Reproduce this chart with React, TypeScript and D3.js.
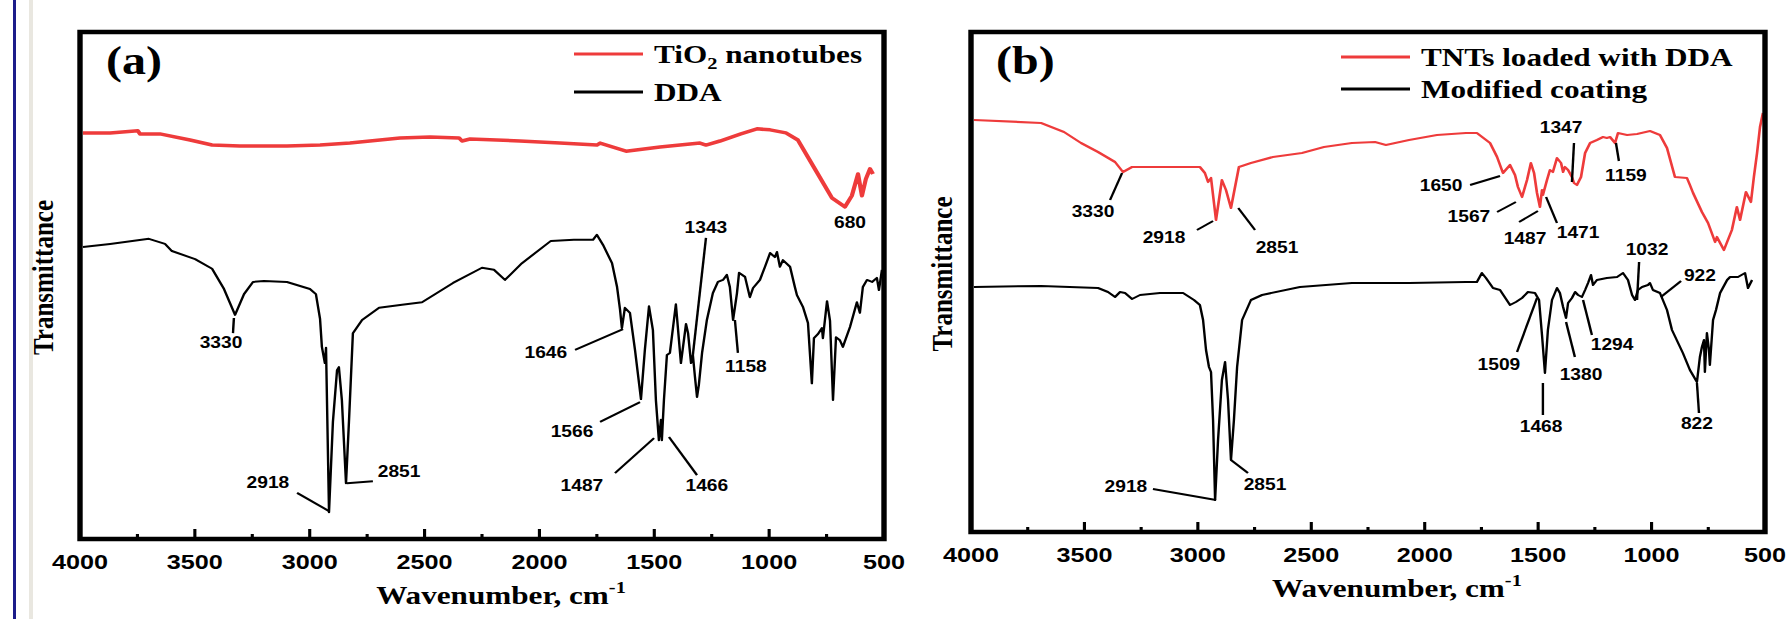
import React from 'react'
import * as d3 from 'd3'

const W = 1787
const H = 619
// the original figure is stretched sideways, so draw in a narrower box and stretch it
const SX = 1.2
const VW = W / SX
const px = (x: number) => x / SX

const RED = '#ee3b3b'
const SERIF = '"Liberation Serif", "Times New Roman", serif'
const SANS = '"Liberation Sans", Arial, sans-serif'

// [wavenumber cm-1, transmittance (arb.)]
const tio2: [number, number][] = [
  [3987, 80.1], [3869, 80.1], [3748, 80.5], [3739, 79.9], [3652, 79.9], [3521, 78.7],
  [3425, 77.7], [3304, 77.5], [3099, 77.5], [2955, 77.7], [2825, 78.1], [2607, 79.1],
  [2476, 79.3], [2350, 79.1], [2337, 78.5], [2302, 78.9], [2085, 78.5], [1911, 78.1],
  [1750, 77.7], [1736, 78.1], [1623, 76.5], [1475, 77.3], [1301, 78.1], [1275, 77.7],
  [1214, 78.5], [1123, 79.9], [1053, 80.9], [996, 80.7], [927, 80.1], [875, 78.7],
  [801, 73.0], [727, 67.3], [670, 65.5], [640, 67.7], [613, 72.0], [596, 67.7],
  [579, 71.0], [561, 73.0], [548, 72.0],
]

const dda: [number, number][] = [
  [3987, 57.6], [3869, 58.2], [3700, 59.2], [3630, 58.2], [3600, 56.8], [3499, 55.2],
  [3425, 53.3], [3373, 49.3], [3325, 44.2], [3286, 48.3], [3247, 50.7], [3199, 50.9],
  [3099, 50.7], [2999, 49.3], [2973, 48.3], [2955, 43.4], [2947, 37.9], [2934, 34.7],
  [2929, 37.7], [2916, 5.3], [2899, 23.1], [2881, 33.3], [2873, 33.9], [2860, 27.4],
  [2842, 11.0], [2829, 23.3], [2812, 40.6], [2772, 43.2], [2698, 45.6], [2598, 46.2],
  [2511, 46.7], [2376, 50.5], [2250, 53.5], [2198, 53.1], [2150, 51.1], [2076, 54.4],
  [1950, 58.8], [1850, 59.0], [1767, 59.0], [1750, 60.0], [1723, 58.0], [1684, 54.4],
  [1662, 49.7], [1649, 45.2], [1641, 41.6], [1628, 45.6], [1606, 44.6], [1584, 37.3],
  [1558, 27.6], [1541, 37.3], [1523, 45.9], [1506, 41.2], [1493, 27.4], [1480, 19.5],
  [1471, 23.5], [1467, 19.5], [1458, 27.4], [1445, 36.3], [1432, 36.7], [1406, 46.3],
  [1384, 34.7], [1362, 42.4], [1353, 40.6], [1340, 34.7], [1332, 36.3], [1323, 32.0],
  [1314, 28.0], [1306, 30.4], [1292, 36.7], [1271, 43.2], [1245, 48.5], [1223, 50.7],
  [1201, 51.1], [1184, 52.1], [1171, 49.7], [1157, 43.2], [1140, 48.5], [1131, 52.5],
  [1105, 51.7], [1084, 47.7], [1070, 49.5], [1040, 51.1], [1018, 53.7], [996, 56.4],
  [975, 55.6], [966, 56.6], [953, 53.7], [940, 55.0], [909, 53.7], [888, 49.7],
  [879, 48.1], [853, 45.8], [831, 42.6], [814, 30.7], [805, 39.6], [788, 40.4],
  [770, 41.6], [766, 39.6], [748, 46.9], [735, 43.0], [722, 27.4], [709, 39.8],
  [692, 39.2], [679, 37.9], [648, 41.8], [618, 46.7], [605, 44.6], [592, 49.7],
  [574, 51.1], [552, 50.7], [531, 51.5], [522, 49.1], [509, 53.1],
]

const tntDda: [number, number][] = [
  [3987, 82.4], [3691, 81.8], [3590, 80.0], [3515, 77.8], [3440, 76.0], [3365, 74.0],
  [3330, 72.0], [3290, 73.0], [2991, 73.0], [2969, 71.8], [2955, 70.0], [2942, 70.8],
  [2920, 62.4], [2894, 70.4], [2876, 68.4], [2854, 64.8], [2819, 73.0], [2766, 73.8],
  [2669, 75.0], [2541, 75.8], [2444, 77.0], [2321, 77.8], [2219, 78.0], [2171, 77.4],
  [2069, 78.4], [1946, 79.4], [1818, 79.8], [1770, 79.8], [1712, 77.8], [1681, 75.0],
  [1655, 71.8], [1624, 73.4], [1602, 71.4], [1589, 69.0], [1571, 67.0], [1549, 70.4],
  [1532, 73.8], [1518, 71.8], [1505, 67.8], [1492, 65.0], [1483, 68.4], [1479, 67.4],
  [1461, 70.4], [1448, 72.4], [1435, 72.0], [1417, 74.8], [1399, 73.8], [1390, 72.0],
  [1382, 73.0], [1368, 72.4], [1351, 71.0], [1342, 69.8], [1329, 69.4], [1311, 71.0],
  [1293, 75.8], [1271, 77.8], [1241, 78.4], [1214, 79.0], [1197, 78.8], [1183, 79.0],
  [1161, 77.8], [1148, 79.8], [1108, 79.4], [1064, 79.6], [1007, 80.2], [963, 79.4],
  [932, 76.8], [897, 71.0], [844, 70.8], [831, 69.4], [817, 67.8], [778, 64.0],
  [751, 61.8], [720, 58.0], [712, 59.0], [681, 56.4], [646, 60.4], [624, 65.0],
  [610, 62.4], [584, 68.0], [562, 66.0], [549, 71.0], [535, 75.8], [522, 81.0],
  [509, 83.8],
]

const coating: [number, number][] = [
  [3987, 49.0], [3691, 49.2], [3440, 48.8], [3396, 48.0], [3365, 47.0], [3343, 48.0],
  [3321, 47.8], [3290, 46.6], [3255, 47.4], [3167, 47.8], [3065, 47.8], [3017, 46.4],
  [2991, 45.4], [2977, 42.4], [2964, 36.4], [2951, 33.0], [2942, 32.0], [2933, 22.4],
  [2924, 6.4], [2911, 18.4], [2894, 30.4], [2880, 34.0], [2867, 26.4], [2854, 14.4],
  [2841, 22.4], [2827, 33.0], [2805, 42.4], [2766, 46.4], [2717, 47.4], [2550, 49.0],
  [2321, 49.8], [2069, 49.8], [1818, 50.0], [1770, 50.0], [1748, 51.8], [1730, 50.8],
  [1699, 48.8], [1668, 48.4], [1624, 45.4], [1598, 46.0], [1571, 46.8], [1545, 48.0],
  [1514, 47.8], [1496, 46.4], [1483, 39.4], [1470, 31.8], [1457, 40.4], [1439, 46.4],
  [1417, 48.8], [1404, 47.8], [1390, 45.0], [1377, 42.8], [1368, 45.8], [1351, 46.8],
  [1337, 48.0], [1324, 47.4], [1307, 47.0], [1293, 48.4], [1280, 49.8], [1267, 51.4],
  [1258, 49.4], [1241, 50.4], [1197, 50.8], [1152, 51.0], [1126, 51.8], [1104, 50.4],
  [1086, 47.4], [1073, 46.4], [1060, 48.4], [1042, 49.0], [1016, 49.4], [1007, 49.8],
  [994, 48.4], [963, 47.8], [932, 44.4], [910, 40.4], [862, 35.8], [831, 32.4],
  [800, 30.0], [787, 35.0], [778, 37.0], [769, 38.4], [765, 32.0], [756, 39.8],
  [747, 36.4], [743, 33.4], [729, 42.4], [716, 44.4], [698, 47.8], [667, 50.4],
  [654, 51.0], [619, 51.0], [588, 51.8], [575, 48.8], [557, 50.4],
]

const xTicks = [4000, 3500, 3000, 2500, 2000, 1500, 1000, 500]
const xMinor = [3750, 3250, 2750, 2250, 1750, 1250, 750]

// peak labels: text, label centre (wn, T), leader line [wn1, T1, wn2, T2]
type Note = { t: string; x: number; y: number; l?: number[] }

const notesA: Note[] = [
  { t: '3330', x: 3386, y: 37.7, l: [3330, 43.6, 3334, 40.6] },
  { t: '2918', x: 3182, y: 10.1, l: [3055, 9.1, 2916, 5.5] },
  { t: '2851', x: 2611, y: 12.2, l: [2838, 11.0, 2725, 11.4] },
  { t: '1646', x: 1972, y: 35.7, l: [1845, 37.3, 1636, 41.4] },
  { t: '1566', x: 1858, y: 20.1, l: [1736, 23.1, 1562, 27.0] },
  { t: '1487', x: 1815, y: 9.5, l: [1671, 13.0, 1501, 19.9] },
  { t: '1466', x: 1271, y: 9.5, l: [1436, 20.1, 1314, 12.6] },
  { t: '1158', x: 1101, y: 32.9, l: [1149, 43.2, 1136, 36.7] },
  { t: '1343', x: 1275, y: 60.4, l: [1275, 59.4, 1332, 36.3] },
  { t: '680', x: 648, y: 61.3 },
]

const notesB: Note[] = [
  { t: '3330', x: 3462, y: 63.0, l: [3387, 66.4, 3334, 71.8] },
  { t: '2918', x: 3149, y: 57.8, l: [3004, 60.4, 2933, 62.2] },
  { t: '2851', x: 2651, y: 55.8, l: [2822, 64.8, 2748, 60.4] },
  { t: '1650', x: 1928, y: 68.2, l: [1800, 69.4, 1668, 71.2] },
  { t: '1567', x: 1805, y: 62.0, l: [1681, 64.0, 1598, 66.0] },
  { t: '1487', x: 1558, y: 57.6, l: [1584, 62.0, 1501, 64.2] },
  { t: '1471', x: 1324, y: 58.8, l: [1465, 67.0, 1417, 61.8] },
  { t: '1347', x: 1399, y: 79.8, l: [1342, 77.8, 1351, 70.0] },
  { t: '1159', x: 1113, y: 70.2, l: [1157, 77.8, 1144, 74.2] },
  { t: '2918', x: 3317, y: 8.0, l: [3198, 8.6, 2920, 6.4] },
  { t: '2851', x: 2704, y: 8.4, l: [2854, 14.4, 2779, 11.8] },
  { t: '1509', x: 1673, y: 32.4, l: [1593, 36.0, 1505, 46.8] },
  { t: '1468', x: 1487, y: 20.0, l: [1479, 29.8, 1479, 23.4] },
  { t: '1380', x: 1311, y: 30.4, l: [1377, 42.0, 1338, 35.0] },
  { t: '1294', x: 1174, y: 36.4, l: [1302, 46.4, 1263, 39.4] },
  { t: '1032', x: 1020, y: 55.4, l: [1055, 54.0, 1064, 46.4] },
  { t: '922', x: 787, y: 50.2, l: [959, 47.0, 870, 50.2] },
  { t: '822', x: 800, y: 20.6, l: [800, 29.8, 791, 23.8] },
]

type Series = { data: [number, number][]; color: string; width: number; name: string }

type PanelProps = {
  left: number
  right: number
  top: number
  bottom: number
  tag: string
  tagX: number
  series: Series[]
  notes: Note[]
  legX: number
  legY: number[]
  titleX: number
  yTitleX: number
}

function LegendLabel({ name }: { name: string }) {
  if (name === 'TiO2 nanotubes') {
    return (
      <>
        TiO<tspan fontSize={17} dy={6}>2</tspan>
        <tspan dy={-6}> nanotubes</tspan>
      </>
    )
  }
  return <>{name}</>
}

function Panel(p: PanelProps) {
  const x = d3.scaleLinear().domain([4000, 500]).range([px(p.left), px(p.right)])
  const y = d3.scaleLinear().domain([0, 100]).range([p.bottom, p.top])
  const line = d3
    .line<[number, number]>()
    .x((d) => x(d[0]))
    .y((d) => y(d[1]))

  return (
    <g>
      {p.series.map((s) => (
        <path
          key={s.name}
          d={line(s.data) || ''}
          fill="none"
          stroke={s.color}
          strokeWidth={s.width}
          strokeLinejoin="round"
        />
      ))}

      {/* frame */}
      <rect
        x={px(p.left)}
        y={p.top}
        width={px(p.right) - px(p.left)}
        height={p.bottom - p.top}
        fill="none"
        stroke="#000"
        strokeWidth={4.5}
      />

      {/* bottom ticks, inward */}
      {xTicks.map((t) => (
        <line key={'M' + t} x1={x(t)} x2={x(t)} y1={p.bottom} y2={p.bottom - 10} stroke="#000" strokeWidth={2.6} />
      ))}
      {xMinor.map((t) => (
        <line key={'m' + t} x1={x(t)} x2={x(t)} y1={p.bottom} y2={p.bottom - 5} stroke="#000" strokeWidth={2.6} />
      ))}
      {xTicks.map((t) => (
        <text
          key={'t' + t}
          x={x(t)}
          y={p.bottom + 30}
          textAnchor="middle"
          fontFamily={SANS}
          fontWeight="bold"
          fontSize={21}
        >
          {t}
        </text>
      ))}

      <text
        x={px(p.titleX)}
        y={p.bottom + 65}
        textAnchor="middle"
        fontFamily={SERIF}
        fontWeight="bold"
        fontSize={26}
      >
        Wavenumber, cm<tspan fontSize={17} dy={-11}>-1</tspan>
      </text>

      <text
        transform={`translate(${px(p.yTitleX)},${(p.top + p.bottom) / 2 - 8}) rotate(-90)`}
        textAnchor="middle"
        fontFamily={SERIF}
        fontWeight="bold"
        fontSize={25}
      >
        Transmittance
      </text>

      <text x={px(p.tagX)} y={p.top + 42} fontFamily={SERIF} fontWeight="bold" fontSize={40}>
        {p.tag}
      </text>

      {/* legend */}
      {p.series.map((s, i) => (
        <g key={'leg' + s.name}>
          <line
            x1={px(p.legX)}
            x2={px(p.legX + 69)}
            y1={p.legY[i]}
            y2={p.legY[i]}
            stroke={s.color}
            strokeWidth={3}
          />
          <text
            x={px(p.legX + 80)}
            y={p.legY[i] + 9}
            fontFamily={SERIF}
            fontWeight="bold"
            fontSize={26}
          >
            <LegendLabel name={s.name} />
          </text>
        </g>
      ))}

      {/* peak labels */}
      {p.notes.map((n, i) => (
        <g key={'n' + i}>
          {n.l && (
            <line
              x1={x(n.l[0])}
              y1={y(n.l[1])}
              x2={x(n.l[2])}
              y2={y(n.l[3])}
              stroke="#000"
              strokeWidth={2}
            />
          )}
          <text
            x={x(n.x)}
            y={y(n.y)}
            textAnchor="middle"
            fontFamily={SANS}
            fontWeight="bold"
            fontSize={16}
          >
            {n.t}
          </text>
        </g>
      ))}
    </g>
  )
}

export default function App() {
  return (
    <>
      <style>{'body{margin:0;background:#fff}'}</style>
      <svg
        width={W}
        height={H}
        viewBox={`0 0 ${VW} ${H}`}
        preserveAspectRatio="none"
        style={{ display: 'block', background: '#fff' }}
      >
        <rect x={px(13)} y={0} width={px(3)} height={H} fill="#1c1c8a" />
        <rect x={px(29)} y={0} width={px(4)} height={H} fill="#e9e7e0" />

        <Panel
          left={80}
          right={884}
          top={32}
          bottom={539}
          tag="(a)"
          tagX={106}
          series={[
            { data: tio2, color: RED, width: 3.5, name: 'TiO2 nanotubes' },
            { data: dda, color: '#000', width: 2, name: 'DDA' },
          ]}
          notes={notesA}
          legX={574}
          legY={[54, 92]}
          titleX={501}
          yTitleX={53}
        />
        <Panel
          left={971}
          right={1765}
          top={32}
          bottom={532}
          tag="(b)"
          tagX={996}
          series={[
            { data: tntDda, color: RED, width: 2.2, name: 'TNTs loaded with DDA' },
            { data: coating, color: '#000', width: 2, name: 'Modified coating' },
          ]}
          notes={notesB}
          legX={1341}
          legY={[57, 89]}
          titleX={1397}
          yTitleX={952}
        />
      </svg>
    </>
  )
}
